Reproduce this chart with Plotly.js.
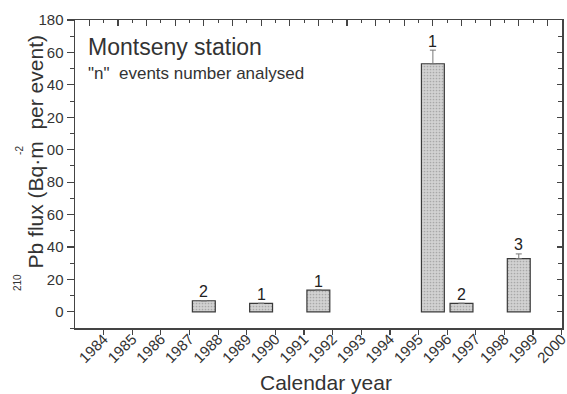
<!DOCTYPE html>
<html>
<head>
<meta charset="utf-8">
<script src="https://cdn.plot.ly/plotly-3.0.1.min.js"></script>
<style>
  html, body { margin: 0; padding: 0; background: #ffffff; }
  #chart { width: 567px; height: 394px; }
</style>
</head>
<body>
<div id="chart"></div>
<script>
// ---- data ----
const years    = [1988, 1990, 1992, 1996, 1997, 1999];
const flux     = [6.8, 5.2, 13.4, 153, 5.2, 32.8];
const fluxErr  = [null, null, null, 8.4, null, 2.9];
const nEvents  = [2, 1, 1, 1, 2, 3];
const axisYears = [1984, 1985, 1986, 1987, 1988, 1989, 1990, 1991, 1992,
                   1993, 1994, 1995, 1996, 1997, 1998, 1999, 2000];
const chartTitle = 'Montseny station';
const chartNote  = '"n"  events number analysed';

// ---- build ----
const FONT = 'Liberation Sans, Arial, Helvetica, sans-serif';
const INK = '#333333';
const LINE = '#444444';
const X_RANGE = [1983, 2000.01];
const Y_RANGE = [-10, 180];

// bars occupy the interval ending at their calendar year
const barX = years.map(y => y - 0.5);

const bars = {
  type: 'bar',
  x: barX,
  y: flux,
  width: 0.8,
  marker: {
    color: '#cbcbcb', line: { color: '#3a3a3a', width: 1.2 },
    pattern: { shape: '.', size: 3, solidity: 0.25, fgcolor: '#a8a8a8', bgcolor: '#d2d2d2' }
  },
  error_y: {
    type: 'data', symmetric: false, array: fluxErr,
    arrayminus: fluxErr.map(e => (e === null ? null : 0)),
    visible: true, color: '#777777', thickness: 1, width: 3
  },
  hoverinfo: 'x+y',
  showlegend: false
};

// invisible copy on the overlay axes so the top/right frame axes are drawn
const frame = {
  type: 'scatter', mode: 'none', x: barX, y: flux, xaxis: 'x2', yaxis: 'y2',
  hoverinfo: 'skip', showlegend: false
};

const annotations = [];

// y-axis title drawn as rotated text (overlapping the tick labels as in the reference)
annotations.push({
  xref: 'paper', yref: 'paper', x: 0, y: 0.57, xshift: -40,
  xanchor: 'center', yanchor: 'middle', textangle: -90,
  text: 'Pb flux (Bq·m  per event)', showarrow: false,
  font: { family: FONT, size: 21, color: INK }, bgcolor: '#ffffff', borderpad: 0
});
annotations.push({
  xref: 'paper', yref: 'paper', x: 0, y: 0.146, xshift: -58,
  xanchor: 'center', yanchor: 'middle', textangle: -90,
  text: '210', showarrow: false, font: { family: FONT, size: 10, color: INK }
});
annotations.push({
  xref: 'paper', yref: 'paper', x: 0, y: 0.575, xshift: -55,
  xanchor: 'center', yanchor: 'middle', textangle: -90,
  text: '-2', showarrow: false, font: { family: FONT, size: 10, color: INK }
});

// in-plot texts
annotations.push({
  xref: 'paper', yref: 'paper', x: 0, y: 1, xshift: 11, yshift: -27,
  xanchor: 'left', yanchor: 'middle', text: chartTitle, showarrow: false,
  font: { family: FONT, size: 23, color: INK }
});
annotations.push({
  xref: 'paper', yref: 'paper', x: 0, y: 1, xshift: 11, yshift: -53,
  xanchor: 'left', yanchor: 'middle', text: chartNote, showarrow: false,
  font: { family: FONT, size: 17, color: INK }
});

// x-axis title
annotations.push({
  xref: 'paper', yref: 'paper', x: 0.516, y: 0, yshift: -54,
  xanchor: 'center', yanchor: 'middle', text: 'Calendar year', showarrow: false,
  font: { family: FONT, size: 21, color: INK }
});

// n labels above each bar
years.forEach((yr, i) => {
  annotations.push({
    x: barX[i], y: flux[i] + (fluxErr[i] || 0), xref: 'x', yref: 'y',
    yanchor: 'middle', yshift: 9, text: String(nEvents[i]), showarrow: false,
    font: { family: FONT, size: 16, color: '#222222' }
  });
});

const layout = {
  width: 567, height: 394,
  margin: { l: 75, r: 5, t: 20, b: 66 },
  paper_bgcolor: '#ffffff', plot_bgcolor: '#ffffff',
  font: { family: FONT, color: INK },
  xaxis: {
    range: X_RANGE, showgrid: false, zeroline: false,
    showline: true, linecolor: LINE, linewidth: 1.5,
    tickmode: 'array', tickvals: axisYears, ticktext: axisYears.map(String),
    ticks: 'outside', ticklen: 5, tickwidth: 1.2, tickcolor: LINE,
    tickangle: -45, ticklabelstandoff: -10, ticklabeloverflow: 'allow',
    tickfont: { family: FONT, size: 15, color: INK }
  },
  yaxis: {
    range: Y_RANGE, showgrid: false, zeroline: false,
    showline: true, linecolor: LINE, linewidth: 1.5,
    tick0: 0, dtick: 20, ticks: 'outside', ticklen: 7, tickwidth: 1.2, tickcolor: LINE,
    minor: { tick0: 0, dtick: 10, ticks: 'outside', ticklen: 4, tickcolor: LINE, tickwidth: 1 },
    tickfont: { family: FONT, size: 15, color: INK }
  },
  xaxis2: {
    overlaying: 'x', side: 'top', anchor: 'y2', range: X_RANGE,
    showgrid: false, zeroline: false, showline: true, linecolor: LINE, linewidth: 1.5,
    tickmode: 'array', tickvals: axisYears.map(y => y - 0.5), showticklabels: false,
    ticks: 'inside', ticklen: 6, tickwidth: 1.2, tickcolor: LINE,
    minor: { tickmode: 'array', tickvals: axisYears, ticks: 'inside', ticklen: 3, tickcolor: LINE, tickwidth: 1 }
  },
  yaxis2: {
    overlaying: 'y', side: 'right', anchor: 'x2', range: Y_RANGE,
    showgrid: false, zeroline: false, showline: true, linecolor: LINE, linewidth: 1.5,
    tick0: 0, dtick: 20, showticklabels: false,
    ticks: 'inside', ticklen: 5, tickwidth: 1.2, tickcolor: LINE,
    minor: { tick0: 0, dtick: 10, ticks: 'inside', ticklen: 4, tickcolor: LINE, tickwidth: 1 }
  },
  annotations: annotations,
  bargap: 0.2
};

Plotly.newPlot('chart', [bars, frame], layout, { displayModeBar: false, staticPlot: true });
</script>
</body>
</html>
